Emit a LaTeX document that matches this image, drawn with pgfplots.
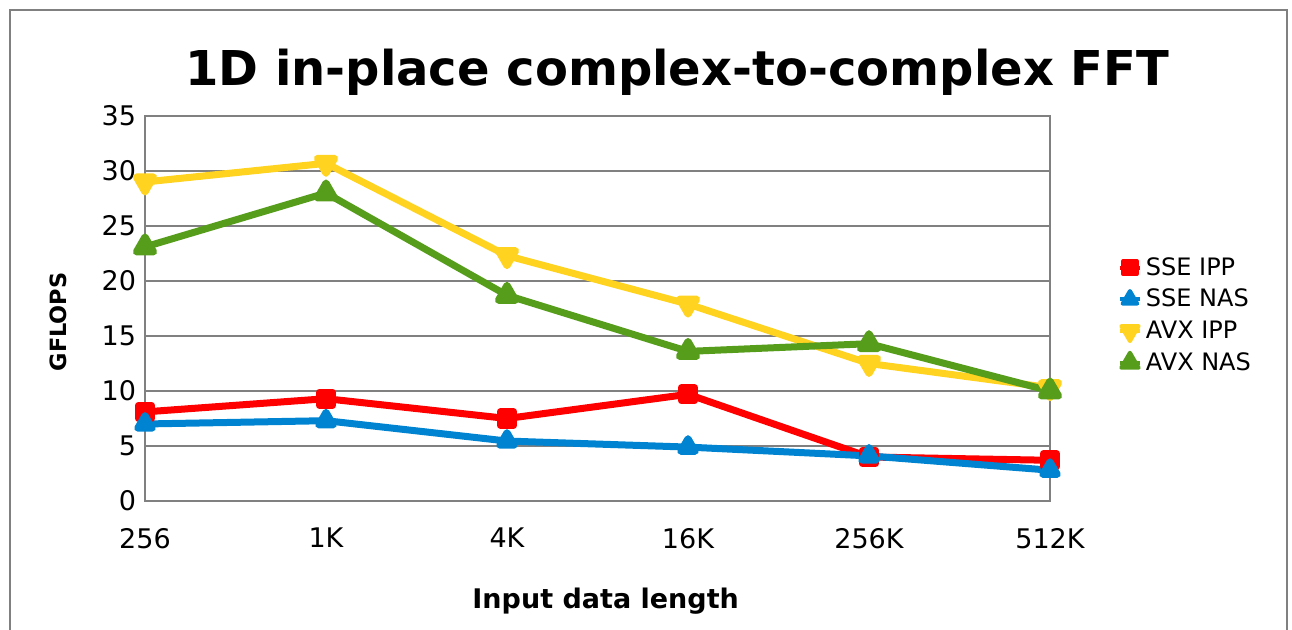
\documentclass[border=0pt]{standalone}
\usepackage{fontspec}
\setmainfont{DejaVu Sans}
\usepackage{pgfplots}
\pgfplotsset{compat=1.18}

\definecolor{sseipp}{HTML}{FF0000}
\definecolor{ssenas}{HTML}{0084D1}
\definecolor{avxipp}{HTML}{FFD320}
\definecolor{avxnas}{HTML}{579D1C}
\definecolor{framegray}{HTML}{808080}

\begin{document}
\begin{tikzpicture}
\path[use as bounding box] (0,0) rectangle (646pt,315pt);
% chart frame (open at the bottom)
\draw[framegray, line width=0.8pt] (5pt,0pt) -- (5pt,310pt) -- (643.5pt,310pt) -- (643.5pt,0pt);
\begin{axis}[
  at={(72.5pt,64.5pt)}, anchor=south west,
  scale only axis, width=452.5pt, height=192.5pt,
  xmin=0, xmax=5, ymin=0, ymax=35,
  xtick={0,1,2,3,4,5},
  xticklabels={256,1K,4K,16K,256K,512K},
  ytick={0,5,...,35},
  major tick length=0pt,
  ymajorgrids,
  grid style={framegray, line width=1pt},
  axis line style={framegray, line width=1.3pt},
  tick label style={font=\fontsize{13.5}{15}\selectfont},
  /pgf/number format/assume math mode=true,
  xticklabel style={yshift=-10pt},
  yticklabel style={xshift=-1pt},
  title={\bfseries 1D in-place complex-to-complex FFT},
  title style={font=\fontsize{24}{27}\selectfont, at={(axis description cs:0.588,1.047)}, anchor=base},
  xlabel={\bfseries Input data length},
  xlabel style={font=\fontsize{13.5}{15}\selectfont, at={(axis description cs:0.509,-0.26)}, anchor=center},
  ylabel={\bfseries GFLOPS},
  ylabel style={font=\fontsize{11.2}{13}\selectfont, at={(axis description cs:-0.096,0.465)}, anchor=center, rotate=0},
  legend style={draw=none, fill=none, at={(axis description cs:1.068,0.655)}, anchor=north west,
    font=\fontsize{12}{14}\selectfont, row sep=1.5pt},
  legend cell align=left,
  legend image code/.code={\draw[mark repeat=2,mark phase=2,#1,line width=2pt] plot coordinates {(0pt,0pt) (5pt,0pt) (10pt,0pt)};},
  every axis plot/.append style={line width=3.5pt, line join=round},
  clip=false,
]
\addplot[sseipp, mark=square*, mark size=3.3pt, mark options={solid}] coordinates {
  (0,8.1) (1,9.3) (2,7.5) (3,9.7) (4,4.0) (5,3.7)};
\addlegendentry{SSE IPP}
\addplot[ssenas, mark=triangle*, mark size=4.2pt] coordinates {
  (0,7.0) (1,7.3) (2,5.45) (3,4.9) (4,4.1) (5,2.8)};
\addlegendentry{SSE NAS}
\addplot[avxipp, mark=triangle*, mark size=5pt, mark options={rotate=180}] coordinates {
  (0,29.0) (1,30.7) (2,22.3) (3,17.9) (4,12.5) (5,10.3)};
\addlegendentry{AVX IPP}
\addplot[avxnas, mark=triangle*, mark size=5pt] coordinates {
  (0,23.1) (1,28.0) (2,18.7) (3,13.6) (4,14.3) (5,10.0)};
\addlegendentry{AVX NAS}
\end{axis}
\end{tikzpicture}
\end{document}
